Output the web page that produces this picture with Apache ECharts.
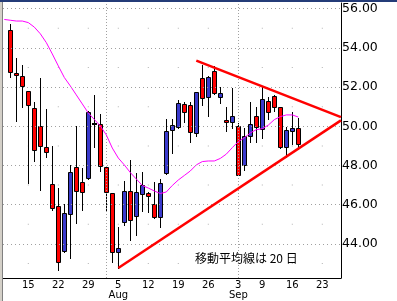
<!DOCTYPE html>
<html><head><meta charset="utf-8">
<script src="https://cdn.jsdelivr.net/npm/echarts@6/dist/echarts.min.js"></script>
<style>html,body{margin:0;padding:0;background:#fff}#c{width:397px;height:301px}</style>
</head><body><div id="c"></div>
<script>
// trading days (index 0 = Jul 10), plus future slots up to Sep 26
const dates = ['7/10','7/11','7/12','7/15','7/16','7/17','7/18','7/19','7/22','7/23','7/24','7/25','7/26','7/29','7/30','7/31',
 '8/1','8/2','8/5','8/6','8/7','8/8','8/9','8/12','8/13','8/14','8/15','8/16','8/19','8/20','8/21','8/22','8/23','8/26','8/27','8/28','8/29','8/30',
 '9/3','9/4','9/5','9/6','9/9','9/10','9/11','9/12','9/13','9/16','9/17','9/18','9/19','9/20','9/23','9/24','9/25','9/26'];
const opens  = [54.91,52.70,52.57,51.79,50.92,50.02,48.93,47.04,45.92,43.57,45.46,47.91,47.14,47.30,50.12,50.10,47.94,46.58,43.56,45.05,46.70,45.35,46.47,46.61,46.04,45.31,47.55,49.76,49.90,51.12,51.07,49.59,52.45,51.43,52.82,51.43,50.32,50.18,50.02,47.95,49.47,50.53,49.81,51.29,51.55,50.97,48.88,49.72,49.90];
const closes = [52.70,52.56,51.99,51.04,48.74,48.93,48.62,45.77,43.01,45.56,47.65,46.66,46.58,50.74,50.12,47.94,46.58,43.55,43.78,46.70,45.17,46.67,47.00,46.38,45.30,47.09,49.76,50.07,51.17,50.66,49.64,51.73,51.38,52.53,51.63,51.68,50.15,50.53,47.46,49.48,50.14,49.90,51.39,50.68,50.93,48.88,49.79,49.90,49.05];
const highs  = [55.22,53.47,53.13,51.82,51.22,52.45,50.88,48.99,46.87,46.04,48.03,50.02,47.86,50.76,51.60,50.63,47.96,46.60,44.88,47.22,48.28,47.60,47.68,46.65,47.17,47.30,50.37,50.36,51.34,51.26,51.22,51.75,53.13,52.55,53.10,51.99,50.97,51.96,50.15,49.91,51.24,50.97,51.99,51.50,51.60,51.00,49.98,50.74,50.41];
const lows   = [52.45,50.23,50.92,47.06,48.16,46.71,48.40,45.68,42.62,43.55,43.23,45.02,45.69,47.28,48.91,47.68,45.64,43.01,42.72,44.93,44.16,44.40,45.64,45.56,45.27,44.80,47.52,48.57,49.85,50.18,49.13,49.44,51.03,50.49,51.60,51.12,49.72,49.86,47.45,47.72,49.13,49.13,49.35,50.33,50.74,48.85,48.40,49.05,48.79];
// 20-day moving average, starting one day before the first candle (index -1)
const ma20 = [55.45,55.41,55.37,55.37,55.29,55.06,54.72,54.27,53.69,53.08,52.49,52.06,51.60,51.14,50.68,50.35,50.02,49.56,48.89,48.38,48.03,47.64,47.31,46.98,46.85,46.70,46.57,46.65,46.98,47.26,47.49,47.72,48.03,48.20,48.23,48.23,48.36,48.58,48.91,49.22,49.41,49.66,49.83,49.88,50.06,50.34,50.49,50.58,50.58,50.47];
// triangle trend lines [index, value]
const upperLine = [[31, 53.35], [55.11, 50.47]];
const lowerLine = [[18, 42.77], [55.11, 50.30]];
// axis ticks
const xTickIdx = [3, 8, 13, 18, 23, 28, 33, 38, 42, 47, 52];
const xTickLabels = ['15', '22', '29', '5\nAug', '12', '19', '26', '3\nSep', '9', '16', '23'];
const monthStartIdx = [16, 38];
const yLabelValues = [44, 46, 48, 50, 52, 54, 56];
const yMinorValues = [43, 45, 47, 49, 51, 53, 55];
const noteText = '移動平均線は 20 日';

const candleData = opens.map((o, i) => [i, o, closes[i], lows[i], highs[i]]);
const maData = ma20.map((v, i) => [i - 1, v]);
const dotData = [];
yMinorValues.forEach(v => xTickIdx.forEach(x => dotData.push([x, v])));

const markData = [];
yLabelValues.forEach(v => markData.push({yAxis: v, lineStyle: {color: '#a0a0a0', type: [1, 3], width: 1}}));
monthStartIdx.forEach(x => markData.push({xAxis: x, lineStyle: {color: '#a0a0a0', type: [1, 2], width: 1}}));

const chart = echarts.init(document.getElementById('c'), null, {renderer: 'canvas'});
chart.setOption({
  animation: false,
  backgroundColor: '#fff',
  grid: {left: 3, right: 56, top: 3, bottom: 23, containLabel: false},
  xAxis: {
    type: 'value', min: -1.217, max: 55.117,
    axisLine: {show: true, onZero: false, lineStyle: {color: '#000', width: 1}},
    axisTick: {show: false},
    splitLine: {show: false},
    axisLabel: {
      customValues: xTickIdx,
      formatter: v => { const k = xTickIdx.indexOf(Math.round(v)); return k >= 0 ? xTickLabels[k] : ''; },
      color: '#000', fontSize: 10, fontFamily: 'DejaVu Sans', margin: 3, lineHeight: 9.5
    }
  },
  yAxis: {
    type: 'value', position: 'right', min: 42.26, max: 56.29,
    axisLine: {show: true, onZero: false, lineStyle: {color: '#000', width: 1}},
    axisTick: {show: false},
    splitLine: {show: false},
    axisLabel: {
      customValues: yLabelValues,
      formatter: v => v.toFixed(2),
      color: '#000', fontSize: 12.5, fontFamily: 'DejaVu Sans', margin: 1
    }
  },
  graphic: [
    {type: 'rect', shape: {x: 0, y: 0, width: 2, height: 301}, style: {fill: '#d4d0c8'}, z: 100},
    {type: 'rect', shape: {x: 2, y: 0, width: 1, height: 301}, style: {fill: '#808080'}, z: 100},
    {type: 'rect', shape: {x: 0, y: 0, width: 397, height: 2}, style: {fill: '#243c78'}, z: 100},
    {type: 'text', x: 195, y: 258, style: {text: noteText, fill: '#000', font: '12px "Noto Sans CJK JP"', verticalAlign: 'middle'}, z: 100}
  ],
  series: [
    {
      type: 'scatter', z: 1, silent: true,
      symbol: 'rect', symbolSize: [1, 1],
      itemStyle: {color: '#a0a0a0'},
      data: dotData,
      markLine: {silent: true, symbol: ['none', 'none'], label: {show: false}, animation: false, data: markData}
    },
    {
      type: 'custom', z: 3,
      encode: {x: 0, y: [1, 2, 3, 4]},
      data: candleData,
      renderItem: function (params, api) {
        const i = api.value(0), o = api.value(1), c = api.value(2), l = api.value(3), h = api.value(4);
        const pO = api.coord([i, o]), pC = api.coord([i, c]), pL = api.coord([i, l]), pH = api.coord([i, h]);
        const cx = Math.floor(pO[0]);
        const ch = [];
        ch.push({type: 'line', shape: {x1: cx + 0.5, y1: Math.round(pH[1]), x2: cx + 0.5, y2: Math.round(pL[1])}, style: {stroke: '#000', lineWidth: 1}});
        const top = Math.round(Math.min(pO[1], pC[1])), bot = Math.round(Math.max(pO[1], pC[1]));
        if (bot - top < 2) {
          ch.push({type: 'rect', shape: {x: cx - 2, y: top - 1, width: 5, height: 2}, style: {fill: '#000'}});
        } else {
          ch.push({type: 'rect', shape: {x: cx - 1.5, y: top + 0.5, width: 4, height: bot - top - 1}, style: {fill: c < o ? '#ff0000' : '#3a3acc', stroke: '#000', lineWidth: 1}});
        }
        return {type: 'group', children: ch};
      }
    },
    {
      type: 'line', z: 4, data: maData, showSymbol: false, symbol: 'none',
      lineStyle: {color: '#ff00ff', width: 1}, silent: true
    },
    {
      type: 'line', z: 5, data: upperLine, symbol: 'none',
      lineStyle: {color: '#ff0000', width: 2.5}, silent: true
    },
    {
      type: 'line', z: 5, data: lowerLine, symbol: 'none',
      lineStyle: {color: '#ff0000', width: 2.5}, silent: true
    }
  ]
});
</script></body></html>
